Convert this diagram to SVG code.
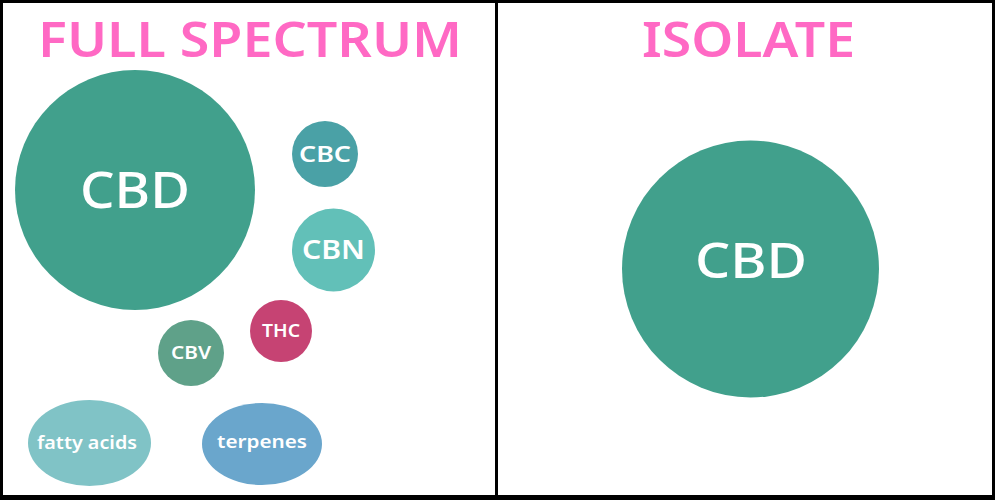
<svg xmlns="http://www.w3.org/2000/svg" width="1000" height="500" viewBox="0 0 1000 500">
<style>
.title{font-family:"Noto Sans","Open Sans",sans-serif;font-weight:600;font-size:49px;fill:#ff69c4;text-anchor:middle}
.lbl{font-family:"Noto Sans","Open Sans",sans-serif;font-weight:600;fill:#ffffff;text-anchor:middle}
.big{font-weight:500}
</style>
<rect x="0" y="0" width="1000" height="500" fill="#ffffff"/>
<g id="frame">
<rect x="0" y="0" width="995" height="3" fill="#000"/>
<rect x="0" y="0" width="3" height="500" fill="#000"/>
<rect x="992" y="0" width="3" height="500" fill="#000"/>
<rect x="0" y="495" width="995" height="5" fill="#000"/>
<rect x="495" y="0" width="3" height="500" fill="#000"/>
</g>
<g id="title-full"><text class="title" x="250" y="57" textLength="424" lengthAdjust="spacingAndGlyphs">FULL SPECTRUM</text></g>
<g id="title-isolate"><text class="title" x="748.5" y="57" textLength="213" lengthAdjust="spacingAndGlyphs">ISOLATE</text></g>
<g id="cbd-full">
<circle cx="135" cy="190" r="120" fill="#41a08c"/>
<text class="lbl big" x="135" y="208" font-size="50" textLength="110" lengthAdjust="spacingAndGlyphs">CBD</text>
</g>
<g id="cbc">
<circle cx="325" cy="154" r="33" fill="#4aa1a6"/>
<text class="lbl" x="325" y="162" font-size="22" textLength="52" lengthAdjust="spacingAndGlyphs">CBC</text>
</g>
<g id="cbn">
<circle cx="333.5" cy="250" r="41.5" fill="#62c0b8"/>
<text class="lbl" x="333.5" y="259" font-size="27" textLength="63" lengthAdjust="spacingAndGlyphs">CBN</text>
</g>
<g id="thc">
<circle cx="281" cy="331" r="31" fill="#c64373"/>
<text class="lbl" x="281" y="337" font-size="18" textLength="38" lengthAdjust="spacingAndGlyphs">THC</text>
</g>
<g id="cbv">
<circle cx="191" cy="353" r="33" fill="#5fa189"/>
<text class="lbl" x="191" y="359" font-size="18" textLength="40" lengthAdjust="spacingAndGlyphs">CBV</text>
</g>
<g id="fatty-acids">
<ellipse cx="89.5" cy="443" rx="61.5" ry="43" fill="#80c3c6"/>
<text class="lbl" x="87" y="449" font-size="17" textLength="100" lengthAdjust="spacingAndGlyphs">fatty acids</text>
</g>
<g id="terpenes">
<ellipse cx="262" cy="444" rx="60" ry="41" fill="#6aa6cc"/>
<text class="lbl" x="262" y="448" font-size="17" textLength="90" lengthAdjust="spacingAndGlyphs">terpenes</text>
</g>
<g id="cbd-isolate">
<circle cx="750.5" cy="269" r="128.5" fill="#41a08c"/>
<text class="lbl big" x="751" y="278" font-size="49" textLength="112" lengthAdjust="spacingAndGlyphs">CBD</text>
</g>
<g id="connectors"></g>
</svg>
